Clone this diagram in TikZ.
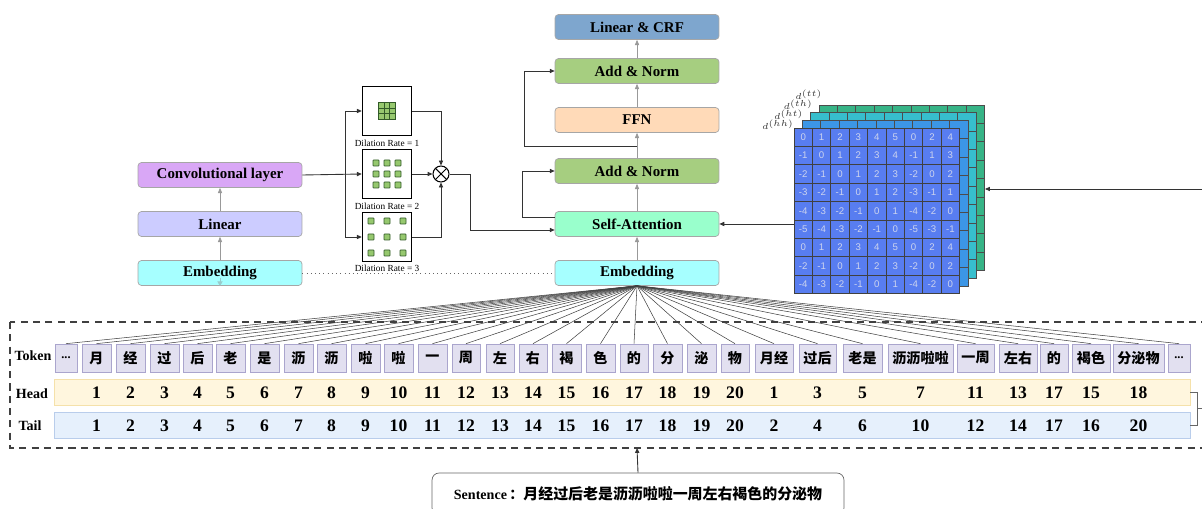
\documentclass[tikz,border=0pt]{standalone}
\usepackage{fontspec}
\setmainfont{Liberation Serif}
\setsansfont{Liberation Sans}
\newfontfamily\cjk{Noto Sans CJK SC}
\usetikzlibrary{arrows.meta,positioning}

\definecolor{convc}{RGB}{217,167,246}
\definecolor{linc}{RGB}{204,204,255}
\definecolor{embc}{RGB}{166,255,255}
\definecolor{crfc}{RGB}{126,166,206}
\definecolor{anc}{RGB}{166,206,128}
\definecolor{ffnc}{RGB}{255,218,184}
\definecolor{sac}{RGB}{153,255,204}
\definecolor{tokc}{RGB}{226,224,240}
\definecolor{tokd}{RGB}{170,165,205}
\definecolor{headc}{RGB}{255,246,222}
\definecolor{headd}{RGB}{245,225,170}
\definecolor{tailc}{RGB}{230,240,252}
\definecolor{taild}{RGB}{185,205,235}
\definecolor{mat1}{RGB}{88,125,240}
\definecolor{mat2}{RGB}{60,150,230}
\definecolor{mat3}{RGB}{55,190,205}
\definecolor{mat4}{RGB}{55,180,135}
\definecolor{celltxt}{RGB}{205,212,238}
\definecolor{sqg}{RGB}{150,200,110}
\definecolor{sqd}{RGB}{50,90,40}

\tikzset{
  blk/.style={draw=black!35, rounded corners=2pt, minimum width=3.28cm, minimum height=0.5cm,
    inner sep=0pt, font=\bfseries\fontsize{8.5}{10}\selectfont},
  garr/.style={draw=black!40, -{Triangle[length=3pt,width=2.4pt]}},
  barr/.style={draw=black!80, line width=0.5pt, -{Triangle[length=2.8pt,width=2.4pt]}},
  dil/.style={draw, line width=0.8pt, minimum size=0.98cm, inner sep=0pt},
  drlab/.style={font=\fontsize{5.3}{6}\selectfont, inner sep=0pt},
  tok/.style={draw=tokd, fill=tokc, minimum height=0.56cm, inner sep=0pt,
    font=\cjk\bfseries\fontsize{8}{9}\selectfont},
  num/.style={font=\bfseries\fontsize{10}{11}\selectfont, inner sep=0pt},
  rowlab/.style={font=\bfseries\fontsize{8}{9}\selectfont, inner sep=0pt},
  cell/.style={draw=black!75, minimum size=0.368cm, inner sep=0pt,
    font=\sffamily\fontsize{5.5}{6}\selectfont, text=celltxt},
  dlab/.style={font=\fontsize{4.2}{5}\selectfont, inner sep=0pt, text=black!80},
  fan/.style={draw=black!75, line width=0.3pt},
}

\begin{document}
\begin{tikzpicture}[x=0.02cm, y=-0.02cm]
 \useasboundingbox (0,0) rectangle (1202,509);
 \clip (0,0) rectangle (1202,509);

 %left column
 \node[blk, fill=convc] (conv) at (220,175) {Convolutional layer};
 \node[blk, fill=linc] (lin) at (220,224) {Linear};
 \node[blk, fill=embc] (emb1) at (220,273) {Embedding};
 \draw[garr] (emb1) -- (lin);
 \draw[garr] (lin) -- (conv);
 \coordinate (tri) at (220,278);
 \draw[draw=teal!40, -{Triangle[length=2.5pt,width=3pt]}] (tri) -- (emb1.south);

 %dilated convolutions
 \node[dil] (dr1) at (387,111) {};
 \node[dil] (dr2) at (387,174) {};
 \node[dil] (dr3) at (387,237) {};
 \node[drlab] (lab1) at (387,143) {Dilation Rate = 1};
 \node[drlab] (lab2) at (387,206) {Dilation Rate = 2};
 \node[drlab] (lab3) at (387,268) {Dilation Rate = 3};
 \foreach \a in {-1,0,1} {
   \foreach \b in {-1,0,1} {
     \draw[fill=sqg, draw=sqd, line width=0.3pt] (387+\a*5.5-2.75, 111+\b*5.5-2.75) rectangle ++(5.5,5.5);
     \draw[fill=sqg, draw=sqd, line width=0.4pt, rounded corners=0.4pt] (387+\a*11-3, 174+\b*11-3) rectangle ++(6,6);
     \draw[fill=sqg, draw=sqd, line width=0.4pt, rounded corners=0.4pt] (387+\a*16-3, 237+\b*16-3) rectangle ++(6,6);
   }
 }
 \node[draw, line width=0.6pt, circle, minimum size=0.32cm, inner sep=0pt,
   path picture={\draw[line width=0.6pt] (path picture bounding box.north east) -- (path picture bounding box.south west)
     (path picture bounding box.north west) -- (path picture bounding box.south east);}] (ot) at (441,174) {};

 \coordinate (br) at (345,174);
 \draw[barr] (conv.east) -- (dr2.west);
 \draw[barr] (br) |- (dr1.west);
 \draw[barr] (br) |- (dr3.west);
 \draw[barr] (dr1.east) -| (ot.north);
 \draw[barr] (dr3.east) -| (ot.south);
 \draw[barr] (dr2.east) -- (ot.west);

 %transformer stack
 \node[blk, fill=crfc] (crf) at (637,27) {Linear \& CRF};
 \node[blk, fill=anc] (an1) at (637,71) {Add \& Norm};
 \node[blk, fill=ffnc] (ffn) at (637,120) {FFN};
 \node[blk, fill=anc] (an2) at (637,171) {Add \& Norm};
 \node[blk, fill=sac] (sa) at (637,224) {Self-Attention};
 \node[blk, fill=embc] (emb2) at (637,273) {Embedding};
 \draw[garr] (emb2) -- (sa);
 \draw[garr] (sa) -- (an2);
 \draw[garr] (an2) -- (ffn);
 \draw[garr] (ffn) -- (an1);
 \draw[garr] (an1) -- (crf);
 \coordinate (bend) at (470,174);
 \draw[barr] (ot.east) -- (bend) |- ([yshift=-0.12cm]sa.west);
 \draw[barr] ([yshift=0.14cm]sa.west) -- ++(-32,0) |- (an2.west);
 \coordinate (res2) at (637,146);
 \draw[barr] (res2) -- ++(-113,0) |- (an1.west);
 \draw[dotted, draw=black!60] (emb1.east) -- (emb2.west);

 %distance matrices
 \foreach \k/\col in {3/mat4, 2/mat3, 1/mat2} {
   \foreach \r in {0,...,8} {
     \foreach \c in {0,...,8} {
       \draw[fill=\col, draw=black!70, line width=0.4pt] (794+\k*8.3+\c*18.4, 128-\k*7.7+\r*18.4) rectangle ++(18.4,18.4);
     }
   }
 }
 \foreach \row [count=\r from 0] in {{0,1,2,3,4,5,0,2,4},{-1,0,1,2,3,4,-1,1,3},{-2,-1,0,1,2,3,-2,0,2},
   {-3,-2,-1,0,1,2,-3,-1,1},{-4,-3,-2,-1,0,1,-4,-2,0},{-5,-4,-3,-2,-1,0,-5,-3,-1},
   {0,1,2,3,4,5,0,2,4},{-2,-1,0,1,2,3,-2,0,2},{-4,-3,-2,-1,0,1,-4,-2,0}} {
   \foreach \v [count=\c from 0] in \row {
     \node[cell, fill=mat1] (m\r\c) at (794+9.2+\c*18.4, 128+9.2+\r*18.4) {\v};
   }
 }
 \foreach \k/\name in {0/hh, 1/ht, 2/th, 3/tt} {
   \node[dlab, anchor=south east] (d\name) at (794+\k*9.5, 130-\k*10) {$d^{(\name)}$};
 }
 \coordinate (matW) at (794,224);
 \coordinate (matE) at (985,189);
 \coordinate (rin) at (1202,189);
 \draw[barr] (matW) -- (sa.east);
 \draw[barr] (rin) -- (matE);

 %token table
 \draw[dash pattern=on 4pt off 3pt, line width=0.8pt, draw=black!75] (10,322) rectangle (1215,448);
 \node[draw=headd, fill=headc, minimum width=22.72cm, minimum height=0.52cm, inner sep=0pt] (head) at (622,392) {};
 \node[draw=taild, fill=tailc, minimum width=22.72cm, minimum height=0.52cm, inner sep=0pt] (tail) at (622,425) {};
 \node[rowlab] (ltok) at (33,356) {Token};
 \node[rowlab] (lhead) at (32,394) {Head};
 \node[rowlab] (ltail) at (30,426) {Tail};

 \node[tok, minimum width=0.44cm, font=\bfseries\fontsize{7}{8}\selectfont] (tok1) at (66,358) {...};
 \node[tok, minimum width=0.44cm, font=\bfseries\fontsize{7}{8}\selectfont] (tok31) at (1179,358) {...};
 \foreach \n/\x/\w/\t/\h/\e in {2/82/29/月/1/1, 3/116/29/经/2/2, 4/150/29/过/3/3, 5/183/29/后/4/4,
   6/216/29/老/5/5, 7/250/29/是/6/6, 8/284/29/沥/7/7, 9/317/29/沥/8/8, 10/351/29/啦/9/9,
   11/384/29/啦/10/10, 12/418/29/一/11/11, 13/452/28/周/12/12, 14/486/28/左/13/13,
   15/519/28/右/14/14, 16/552/29/褐/15/15, 17/586/29/色/16/16, 18/620/28/的/17/17,
   19/653/29/分/18/18, 20/687/29/泌/19/19, 21/721/28/物/20/20, 22/755/38/月经/1/2,
   23/799/37/过后/3/4, 24/843/39/老是/5/6, 25/888/65/沥沥啦啦/7/10, 26/957/37/一周/11/12,
   27/999/38/左右/13/14, 28/1040/28/的/17/17, 29/1072/38/褐色/15/16, 30/1113/51/分泌物/18/20} {
   \node[tok, minimum width=\w*0.02cm] (tok\n) at (\x+\w/2,358) {\t};
   \node[num] (h\n) at (\x+\w/2,393) {\h};
   \node[num] (t\n) at (\x+\w/2,426) {\e};
 }
 \foreach \i in {1,...,31} {
   \draw[fan] (emb2.south) -- (tok\i.north);
 }
 \coordinate (brk) at (1197,408.5);
 \coordinate (brkE) at (1202,408.5);
 \draw[draw=black!60] (head.east) -- ++(7,0) |- (tail.east);
 \draw[draw=black!60] (brk) -- (brkE);

 %sentence
 \node[draw=black!60, rounded corners=4pt, minimum width=8.24cm, minimum height=0.84cm, inner sep=0pt] (sent) at (638,494)
   {\bfseries\fontsize{8}{9}\selectfont Sentence\,{\cjk ：}{\cjk\fontsize{8.5}{10}\selectfont 月经过后老是沥沥啦啦一周左右褐色的分泌物}};
 \coordinate (dbot) at (637,448);
 \draw[barr] (sent.north) -- (dbot);
\end{tikzpicture}
\end{document}
